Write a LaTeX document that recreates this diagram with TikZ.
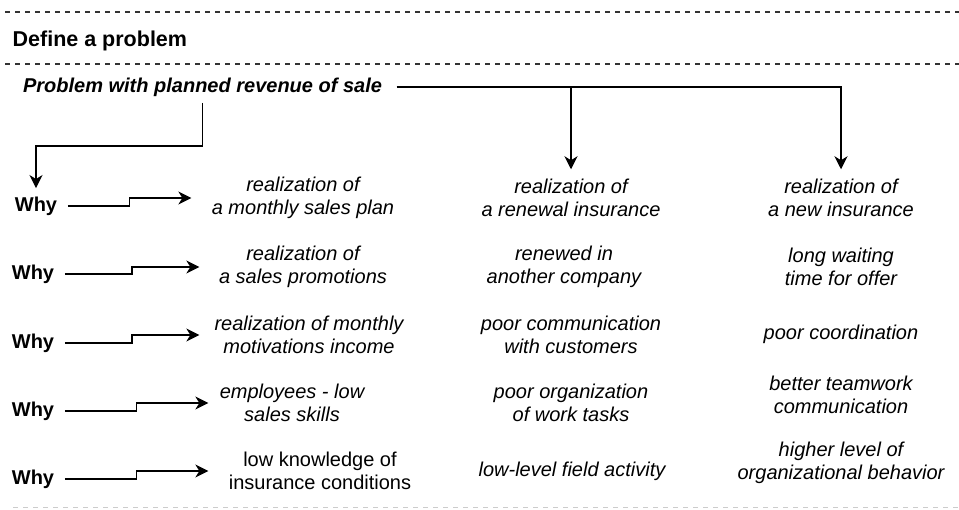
\documentclass[tikz,border=0pt]{standalone}
\usepackage{fontspec}
\setmainfont{Liberation Sans}
\usetikzlibrary{calc,arrows.meta}

\begin{document}
\fontsize{20}{23.5}\selectfont
\begin{tikzpicture}[x=1pt, y=-1pt, line width=1.3pt,
  >={Stealth[length=13pt,width=13pt,inset=4pt]},
  why/.style={font=\bfseries, inner xsep=10pt, inner ysep=8pt},
  cause/.style={font=\itshape, align=center, inner xsep=0pt, inner ysep=9pt},
  sep/.style={dash pattern=on 5pt off 5pt, line width=1.5pt, draw=black!80}]
\useasboundingbox (0,0) rectangle (959,509);

% separators
\draw[sep] (5,12) -- (959,12);
\draw[sep] (5,64) -- (959,64);
\draw[sep, draw=black!20, line width=1pt] (13,507) -- (959,507);

\node (head) [anchor=west, inner sep=0pt, font=\fontsize{21.5}{25}\selectfont\bfseries] at (12,41) {Define a problem};
\node (prob) [font=\bfseries\itshape, inner xsep=14pt, inner ysep=6pt] at (202.5,87) {Problem with planned revenue of sale};

\node (w1) [why] at (36,206) {Why};
\node (w2) [why] at (33,274) {Why};
\node (w3) [why] at (33,343) {Why};
\node (w4) [why] at (33,411) {Why};
\node (w5) [why] at (33,479) {Why};

\node (a1) [cause, minimum width=222pt] at (303,198) {realization of\\a monthly sales plan};
\node (a2) [cause, minimum width=206pt] at (303,267) {realization of\\a sales promotions};
\node (a3) [cause, minimum width=218pt] at (309,335) {realization of monthly\\motivations income};
\node (a4) [cause, minimum width=166pt] at (292,403) {employees - low\\sales skills};
\node (a5) [cause, font=\upshape, minimum width=222pt] at (320,471) {low knowledge of\\insurance conditions};

\node (b1) [cause] at (571,198) {realization of\\a renewal insurance};
\node (b2) [cause] at (564,267) {renewed in\\another company};
\node (b3) [cause] at (571,335) {poor communication\\with customers};
\node (b4) [cause] at (571,403) {poor organization\\of work tasks};
\node (b5) [cause] at (572,471) {low-level field activity};

\node (c1) [cause] at (841,198) {realization of\\a new insurance};
\node (c2) [cause] at (841,267) {long waiting\\time for offer};
\node (c3) [cause] at (841,334) {poor coordination};
\node (c4) [cause] at (841,395) {better teamwork\\communication};
\node (c5) [cause] at (841,463) {higher level of\\organizational behavior};

\draw[->] (prob.south) -- ++(0,43) -| (w1.north);
\draw[->] (prob.east) -| (c1.north);
\draw[->] (prob.east -| b1.north) -- (b1.north);

\draw[->] (w1.east) -| ($(w1.east)!.5!(a1.west)$) |- (a1.west);
\draw[->] (w2.east) -| ($(w2.east)!.5!(a2.west)$) |- (a2.west);
\draw[->] (w3.east) -| ($(w3.east)!.5!(a3.west)$) |- (a3.west);
\draw[->] (w4.east) -| ($(w4.east)!.5!(a4.west)$) |- (a4.west);
\draw[->] (w5.east) -| ($(w5.east)!.5!(a5.west)$) |- (a5.west);

\end{tikzpicture}
\end{document}
